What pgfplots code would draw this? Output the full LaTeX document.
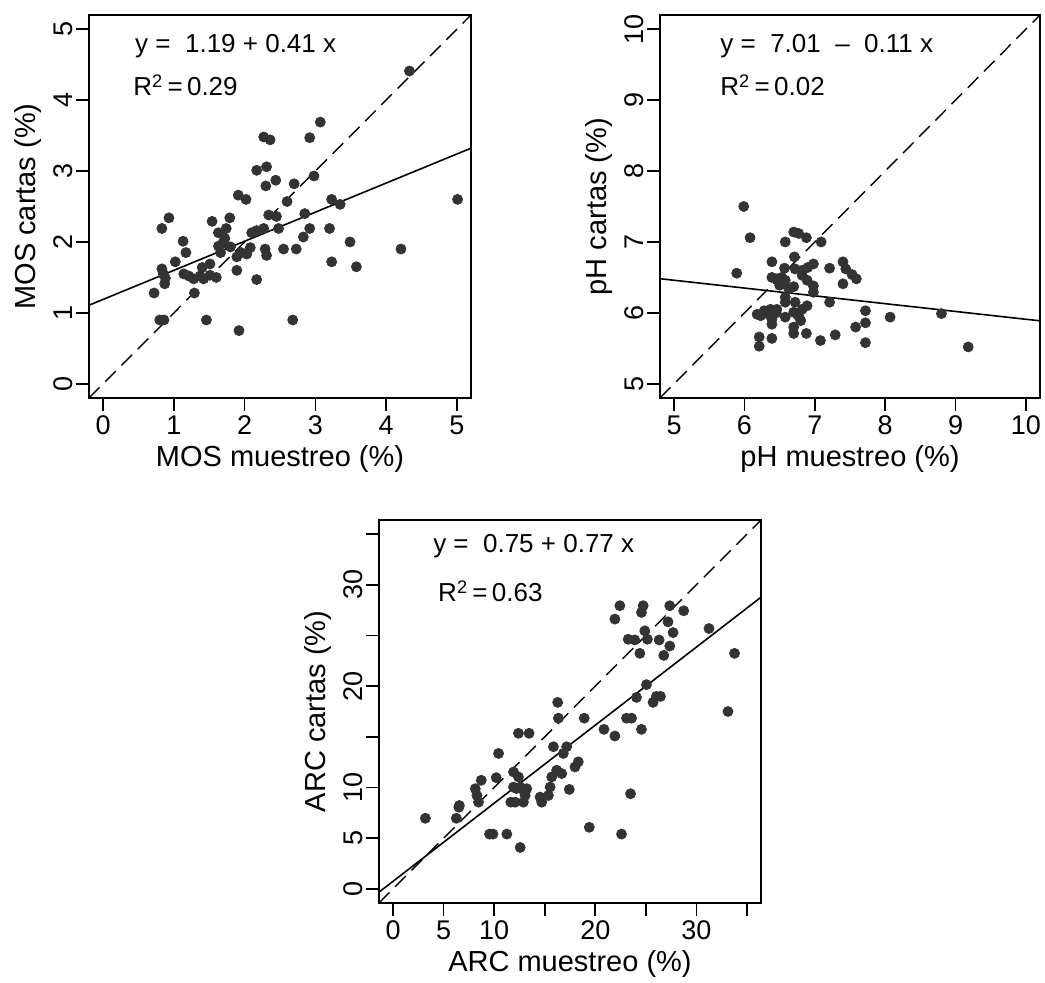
\documentclass[border=0pt]{standalone}
\usepackage{fontspec}
\setmainfont{Liberation Sans}
\usepackage{pgfplots}
\pgfplotsset{compat=1.18}
\definecolor{pt}{RGB}{51,51,51}
\pgfplotsset{
  rplot/.style={
    scale only axis, width=191pt, height=191.5pt,
    axis line style={line width=1pt, black},
    tick align=outside, major tick length=6.5pt,
    tick style={line width=0.8pt, black},
    xtick pos=bottom, ytick pos=left,
    /pgf/number format/assume math mode=true,
    tick label style={font=\fontsize{13.5}{15}\selectfont, black},
    yticklabel style={rotate=90, anchor=south},
    yticklabel shift=-2pt,
    xticklabel shift=-1pt,
    label style={font=\fontsize{14.5}{17}\selectfont, black},
    xlabel style={at={(axis description cs:0.5,-0.159)}, anchor=center},
    ylabel style={at={(axis description cs:-0.16,0.5)}, anchor=center, rotate=0},
    clip=true,
  },
  dots/.style={only marks, mark=*, mark size=2.5pt, color=pt, mark options={draw=pt, fill=pt}},
  diag/.style={black, line width=0.7pt, dash pattern=on 7.5pt off 4pt},
  fit/.style={black, line width=0.8pt},
}
\newcommand{\annfont}{\fontsize{13}{15}\selectfont}
\begin{document}
\begin{tikzpicture}
\useasboundingbox (0,0) rectangle (522.5pt,-491.5pt);
% Panel 1: MOS
\begin{axis}[rplot, at={(44.5pt,-7.5pt)}, anchor=north west,
  xmin=-0.2, xmax=5.2, ymin=-0.2, ymax=5.2,
  xtick={0,1,2,3,4,5}, ytick={0,1,2,3,4,5},
  xlabel={MOS muestreo (\%)}, ylabel={MOS cartas (\%)}]
\addplot[diag] coordinates {(-0.2,-0.2) (5.2,5.2)};
\addplot[fit] coordinates {(-0.2,1.108) (5.2,3.322)};
\addplot[dots] coordinates {
(4.33,4.41) (3.07,3.69) (2.92,3.47) (2.27,3.48) (2.36,3.44) (2.17,3.01) (2.31,3.06)
(2.30,2.79) (2.44,2.87) (2.70,2.82) (2.98,2.93) (1.91,2.66) (2.02,2.60) (2.60,2.57)
(3.23,2.60) (3.35,2.53) (5.01,2.60) (0.93,2.34) (0.83,2.19) (1.54,2.29) (1.79,2.34)
(1.74,2.19) (1.63,2.13) (1.13,2.01) (1.17,1.85) (1.02,1.72) (0.83,1.62) (0.88,1.49)
(0.72,1.28) (0.80,0.90) (0.86,0.90) (1.46,0.90) (1.92,0.75) (2.68,0.90) (1.29,1.28)
(1.14,1.55) (1.28,1.48) (1.42,1.48) (1.51,1.53) (1.51,1.69) (1.89,1.60) (2.17,1.47)
(1.89,1.79) (2.03,1.83) (2.08,1.92) (2.29,1.90) (2.31,1.81) (2.55,1.90) (2.73,1.90)
(2.83,2.07) (2.92,2.19) (3.20,2.19) (3.23,1.72) (3.49,2.00) (3.58,1.65) (4.21,1.90)
(2.85,2.40) (2.48,2.19) (2.27,2.19) (2.17,2.16) (2.34,2.38) (2.45,2.36) (2.10,2.13)
(1.63,1.94) (1.69,1.98) (1.80,1.93) (1.66,1.85) (1.40,1.64) (1.37,1.52) (1.21,1.52)
(0.87,1.41) (0.85,1.55) (1.72,2.05) (1.60,1.50) (1.95,1.85)
};
\node[anchor=base west, font=\annfont, inner sep=0pt] at (axis description cs:0.12,0.901) {y =\ \ 1.19 + 0.41 x};
\node[anchor=base west, font=\annfont, inner sep=0pt] at (axis description cs:0.115,0.789) {R\textsuperscript{2}\,=\,0.29};
\end{axis}
% Panel 2: pH
\begin{axis}[rplot, at={(330pt,-7.5pt)}, anchor=north west, width=190pt,
  xmin=4.8, xmax=10.2, ymin=4.8, ymax=10.2,
  xtick={5,6,7,8,9,10}, ytick={5,6,7,8,9,10},
  xlabel={pH muestreo (\%)}, ylabel={pH cartas (\%)}]
\addplot[diag] coordinates {(4.8,4.8) (10.2,10.2)};
\addplot[fit] coordinates {(4.8,6.482) (10.2,5.888)};
\addplot[dots] coordinates {
(5.99,7.50) (6.08,7.06) (5.89,6.56) (6.58,7.00) (6.70,7.14) (6.77,7.12) (6.88,7.06)
(7.09,7.00) (6.71,6.79) (6.39,6.72) (6.57,6.63) (6.72,6.62) (6.98,6.69) (6.90,6.64)
(7.21,6.63) (7.40,6.72) (7.44,6.62) (7.53,6.54) (7.59,6.48) (7.40,6.41) (6.39,6.50)
(6.46,6.48) (6.58,6.46) (6.50,6.39) (6.82,6.53) (6.89,6.46) (6.98,6.38) (6.70,6.37)
(6.98,6.29) (6.58,6.22) (6.72,6.15) (6.58,6.15) (6.89,6.10) (7.21,6.15) (7.72,6.03)
(8.07,5.94) (8.80,5.99) (9.18,5.52) (7.72,5.86) (7.58,5.80) (7.72,5.58) (7.29,5.69)
(7.08,5.61) (6.88,5.71) (6.70,5.71) (6.70,5.80) (6.39,5.64) (6.21,5.66) (6.21,5.53)
(6.39,5.84) (6.39,5.91) (6.18,5.98) (6.28,6.03) (6.37,6.05) (6.46,6.05) (6.58,5.94)
(6.70,6.01) (6.77,5.96) (6.82,6.05) (6.80,5.89) (6.23,5.96) (6.35,5.98) (6.63,6.34)
(6.82,6.60) (6.53,6.50) (6.75,5.98) (6.45,6.00)
};
\node[anchor=base west, font=\annfont, inner sep=0pt] at (axis description cs:0.158,0.901) {y =\ \ 7.01\ \ --\ \ 0.11 x};
\node[anchor=base west, font=\annfont, inner sep=0pt] at (axis description cs:0.158,0.789) {R\textsuperscript{2}\,=\,0.02};
\end{axis}
% Panel 3: ARC
\begin{axis}[rplot, at={(189.5pt,-260pt)}, anchor=north west,
  xmin=-1.4, xmax=36.4, ymin=-1.4, ymax=36.4,
  xtick={0,5,...,35}, ytick={0,5,...,35},
  xticklabels={0,5,10,,20,,30,}, yticklabels={0,5,10,,20,,30,},
  xlabel={ARC muestreo (\%)}, ylabel={ARC cartas (\%)}]
\addplot[diag] coordinates {(-1.4,-1.4) (36.4,36.4)};
\addplot[fit] coordinates {(-1.4,-0.328) (36.4,28.778)};
\addplot[dots] coordinates {
(3.19,6.96) (6.25,6.96) (6.55,8.22) (6.50,8.05) (8.13,9.88) (8.29,9.21) (8.45,8.55)
(8.72,10.71) (10.20,10.97) (10.43,13.36) (9.54,5.40) (9.87,5.40) (11.25,5.40) (12.57,4.08)
(12.40,15.35) (13.45,15.35) (11.91,11.53) (12.40,11.04) (11.91,10.04) (12.57,10.04) (13.22,9.88)
(13.06,9.21) (12.89,8.55) (12.07,8.55) (11.64,8.55) (14.54,9.05) (14.70,8.55) (15.36,9.21)
(15.53,10.04) (15.69,11.04) (16.18,11.70) (16.68,11.37) (15.86,14.02) (16.84,13.36) (17.17,14.02)
(17.43,9.81) (17.99,12.03) (18.32,12.53) (16.28,18.40) (16.35,16.84) (18.91,16.84) (19.41,6.07)
(20.86,15.74) (21.94,15.08) (22.60,5.40) (23.49,9.38) (23.09,16.84) (23.59,16.84) (24.08,18.89)
(24.57,15.74) (25.07,20.15) (25.72,18.40) (26.05,18.99) (26.45,18.99) (33.13,17.50) (33.78,23.24)
(31.25,25.69) (22.43,27.94) (21.94,26.62) (24.74,27.94) (24.57,27.28) (27.37,27.94) (28.75,27.44)
(27.20,26.35) (27.70,25.29) (27.37,23.96) (26.78,23.04) (26.32,24.56) (24.90,25.46) (25.16,24.63)
(23.26,24.63) (23.91,24.56) (24.41,23.24) (12.2,9.9) (13.0,9.5)
};
\node[anchor=base west, font=\annfont, inner sep=0pt] at (axis description cs:0.141,0.914) {y =\ \ 0.75 + 0.77 x};
\node[anchor=base west, font=\annfont, inner sep=0pt] at (axis description cs:0.154,0.786) {R\textsuperscript{2}\,=\,0.63};
\end{axis}
\end{tikzpicture}
\end{document}
